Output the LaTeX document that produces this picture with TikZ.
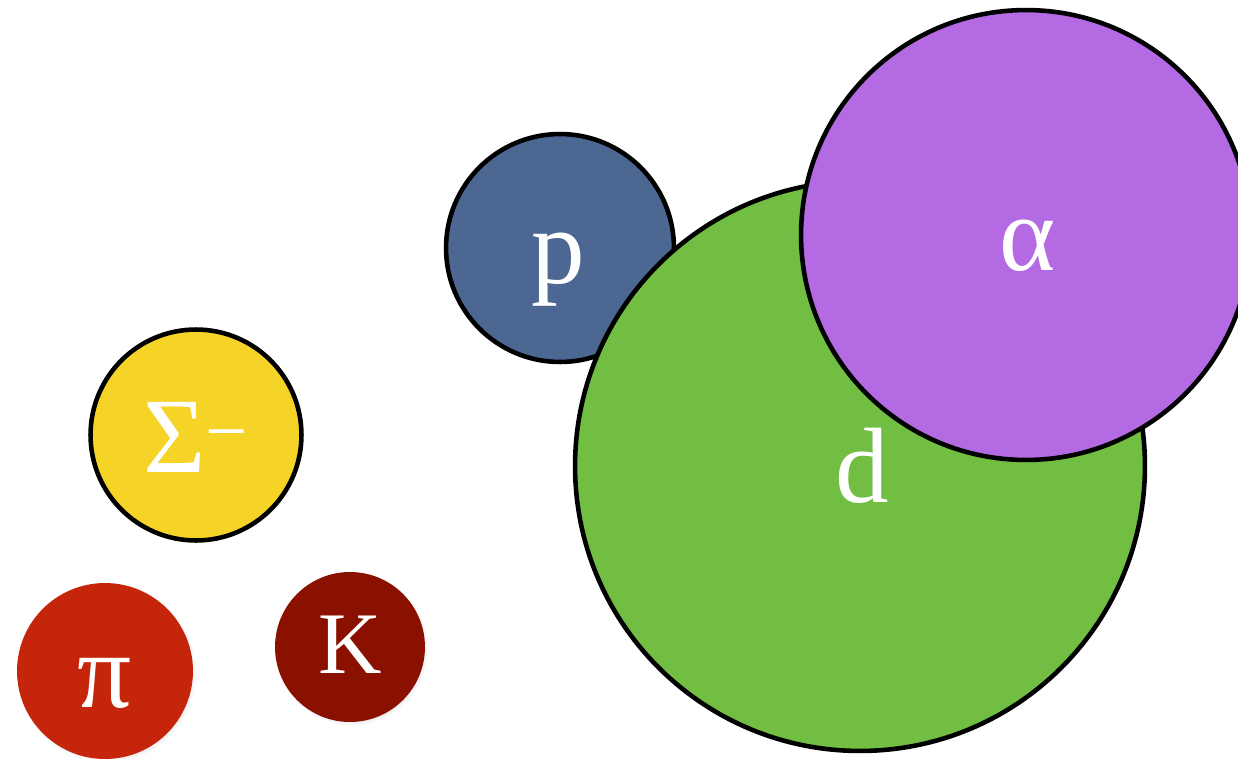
\documentclass[tikz,border=0pt]{standalone}
\usepackage{fontspec}
\setmainfont{Liberation Serif}
\usetikzlibrary{shadows,positioning}

\definecolor{protonblue}{RGB}{76,104,146}
\definecolor{deutgreen}{RGB}{113,190,66}
\definecolor{alphapurple}{RGB}{179,106,226}
\definecolor{sigmayellow}{RGB}{245,211,39}
\definecolor{pionred}{RGB}{197,37,10}
\definecolor{kaonred}{RGB}{138,17,0}

\tikzset{
  particle/.style={circle, inner sep=0pt, outer sep=0pt},
  rimmed/.style={particle, draw=black, line width=2.6pt},
  shaded/.style={particle, circular drop shadow={shadow xshift=.8pt, shadow yshift=-1.2pt, shadow scale=1.02, opacity=.35}},
  lbltext/.style={anchor=base, text=white, font=\fontsize{61}{70}\selectfont, inner sep=0pt}
}

\begin{document}
\begin{tikzpicture}[x=0.02cm, y=-0.02cm]
  \useasboundingbox (0,0) rectangle (1238,758);
  % Particles
  \node[rimmed, fill=protonblue, minimum size=4.56cm] (proton) at (560,248) {};
  \node[rimmed, fill=deutgreen, minimum size=11.4cm] (deuteron) at (860,466) {};
  \node[rimmed, fill=alphapurple, minimum size=9cm] (alpha) at (1026,235) {};
  \node[rimmed, fill=sigmayellow, minimum size=4.22cm] (sigma) at (196,435) {};
  \node[shaded, fill=pionred, minimum size=3.52cm] (pion) at (105,671) {};
  \node[shaded, fill=kaonred, minimum size=3cm] (kaon) at (350,647) {};
  % Labels
  \node[lbltext] (plbl) at (558,283) {p};
  \node[lbltext] (dlbl) at (862,502) {d};
  \node[lbltext] (albl) at (1028,270) {α};
  \node[lbltext] (slbl) at (196,472) {Σ\textsuperscript{−}};
  \node[lbltext] (pilbl) at (105,707) {π};
  \node[lbltext, font=\fontsize{50}{60}\selectfont] (klbl) at (350,673) {K};
\end{tikzpicture}
\end{document}
